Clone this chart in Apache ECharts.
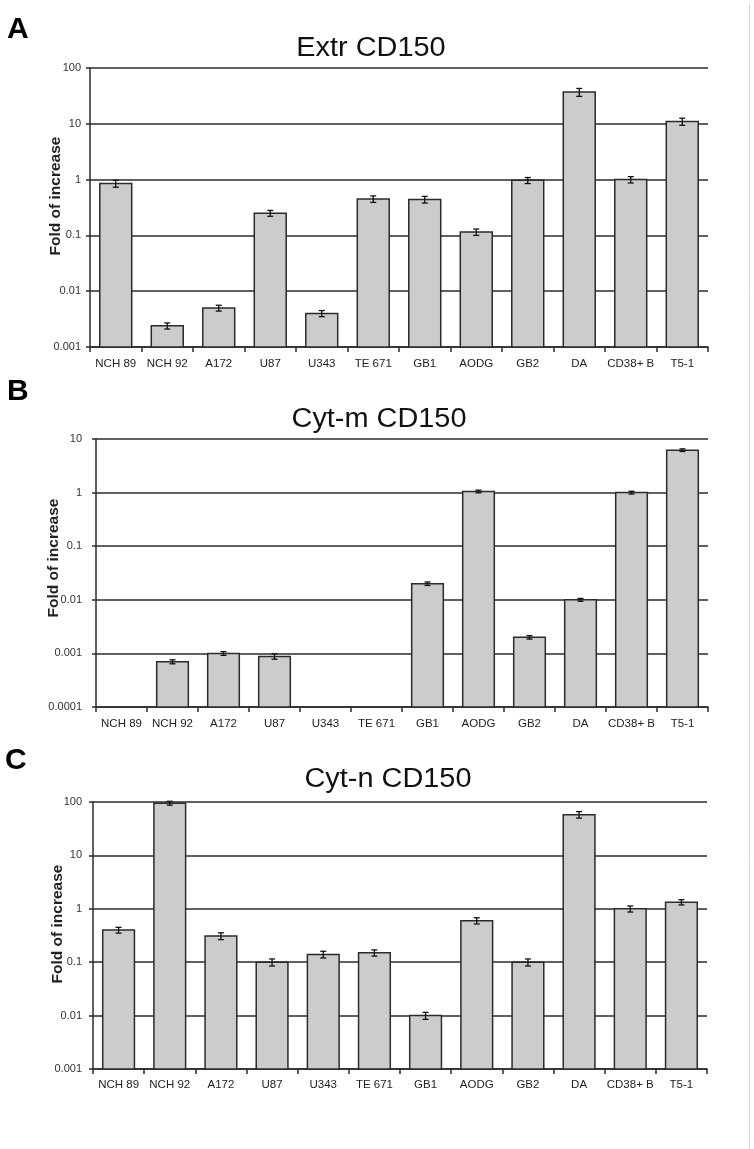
<!DOCTYPE html>
<html><head><meta charset="utf-8">
<script src="https://cdn.jsdelivr.net/npm/echarts@6/dist/echarts.min.js"></script>
<style>html,body{margin:0;padding:0;background:#fff}#c{width:754px;height:1149px}</style>
</head><body><div id="c"></div>
<script>
const categories = ['NCH 89','NCH 92','A172','U87','U343','TE 671','GB1','AODG','GB2','DA','CD38+ B','T5-1'];
const extrValues = [0.85, 0.0024, 0.005, 0.25, 0.004, 0.45, 0.44, 0.115, 0.97, 37, 1.0, 11];
const extrErrors = [0.12, 0.0003, 0.0006, 0.03, 0.0005, 0.06, 0.06, 0.015, 0.12, 6, 0.13, 1.6];
const cytmValues = [null, 0.0007, 0.001, 0.00088, null, null, 0.02, 1.05, 0.002, 0.01, 1.0, 6.2];
const cytmErrors = [null, 0.00006, 0.00008, 0.0001, null, null, 0.0015, 0.06, 0.00015, 0.0006, 0.06, 0.35];
const cytnValues = [0.4, 95, 0.31, 0.1, 0.14, 0.15, 0.01, 0.6, 0.1, 58, 1.0, 1.33];
const cytnErrors = [0.05, 8, 0.045, 0.015, 0.02, 0.02, 0.0015, 0.08, 0.015, 8, 0.13, 0.15];
const panelTitles = ['Extr CD150', 'Cyt-m CD150', 'Cyt-n CD150'];
const panelLetters = ['A', 'B', 'C'];
const yAxisName = 'Fold of increase';
const yMins = [0.001, 0.0001, 0.001];
const yMaxs = [100, 10, 100];

const FONT = '"Liberation Sans", Arial, sans-serif';
const DARK = '#2b2b2b';
const panels = [
  {vals: extrValues, errs: extrErrors, grid: {left: 90, top: 68, width: 618, height: 279}, ylm: 9, xlm: 11,
   title: [371, 62], letter: [7, 43], yname: [56, 196]},
  {vals: cytmValues, errs: cytmErrors, grid: {left: 96, top: 439, width: 612, height: 268}, ylm: 14, xlm: 11,
   title: [379, 433], letter: [7, 405], yname: [54, 558]},
  {vals: cytnValues, errs: cytnErrors, grid: {left: 93, top: 802, width: 614, height: 267}, ylm: 11, xlm: 10,
   title: [388, 793], letter: [5, 774], yname: [58, 924]}
];

function makeRender(yMin) {
  return function (params, api) {
    const i = api.value(0), v = api.value(1), e = api.value(2);
    const top = api.coord([i, v]);
    const base = api.coord([i, yMin]);
    const w = api.size([1, 0])[0] * 0.62;
    const hi = api.coord([i, v + e]);
    const lo = api.coord([i, Math.max(v - e, yMin)]);
    const cap = 3;
    const es = {stroke: '#111', lineWidth: 1.3};
    return {type: 'group', children: [
      {type: 'rect', shape: {x: top[0] - w / 2, y: top[1], width: w, height: base[1] - top[1]},
       style: {fill: '#cccccc', stroke: DARK, lineWidth: 1.5}},
      {type: 'line', shape: {x1: hi[0], y1: hi[1], x2: lo[0], y2: lo[1]}, style: es},
      {type: 'line', shape: {x1: hi[0] - cap, y1: hi[1], x2: hi[0] + cap, y2: hi[1]}, style: es},
      {type: 'line', shape: {x1: lo[0] - cap, y1: lo[1], x2: lo[0] + cap, y2: lo[1]}, style: es}
    ]};
  };
}

const fmt = v => String(parseFloat(Number(v).toPrecision(6)));

const grids = [], xAxes = [], yAxes = [], series = [], graphics = [];
panels.forEach((p, k) => {
  grids.push(Object.assign({containLabel: false}, p.grid));
  xAxes.push({
    type: 'category', gridIndex: k, data: categories,
    axisLine: {lineStyle: {color: DARK, width: 1.5}},
    axisTick: {show: true, alignWithLabel: false, length: 5, lineStyle: {color: DARK, width: 1.5}},
    axisLabel: {interval: 0, fontSize: 11.5, color: '#222', fontFamily: FONT, margin: p.xlm},
    splitLine: {show: false}
  });
  yAxes.push({
    type: 'log', logBase: 10, gridIndex: k, min: yMins[k], max: yMaxs[k], splitNumber: 5,
    axisLine: {show: true, lineStyle: {color: DARK, width: 1.5}},
    axisTick: {show: true, length: 4, lineStyle: {color: DARK, width: 1.5}},
    axisLabel: {formatter: fmt, fontSize: 11, color: '#333', fontFamily: FONT, margin: p.ylm},
    splitLine: {show: true, lineStyle: {color: DARK, width: 1.5}},
    minorTick: {show: false}, minorSplitLine: {show: false}
  });
  const data = [];
  p.vals.forEach((v, i) => { if (v !== null) data.push([i, v, p.errs[i]]); });
  series.push({
    type: 'custom', xAxisIndex: k, yAxisIndex: k, data: data,
    encode: {x: 0, y: 1}, renderItem: makeRender(yMins[k]), clip: false, z: 5
  });
  graphics.push({
    type: 'text', x: p.title[0], y: p.title[1], scaleX: 1.07,
    style: {text: panelTitles[k], fontSize: 27, fontFamily: FONT, fill: '#111',
            textAlign: 'center', textVerticalAlign: 'bottom'}
  });
  graphics.push({
    type: 'text', x: p.letter[0], y: p.letter[1] + 2,
    style: {text: panelLetters[k], fontSize: 30, fontWeight: 'bold', fontFamily: FONT, fill: '#000',
            textAlign: 'left', textVerticalAlign: 'bottom'}
  });
  graphics.push({
    type: 'text', x: p.yname[0], y: p.yname[1], rotation: Math.PI / 2,
    style: {text: yAxisName, fontSize: 15.5, fontWeight: 'bold', fontFamily: FONT, fill: '#222',
            textAlign: 'center', textVerticalAlign: 'middle'}
  });
});
graphics.push({type: 'line', shape: {x1: 749.5, y1: 3, x2: 749.5, y2: 1149},
               style: {stroke: '#d9d9d9', lineWidth: 1}});

const chart = echarts.init(document.getElementById('c'), null, {renderer: 'canvas'});
chart.setOption({
  backgroundColor: '#ffffff',
  animation: false,
  grid: grids, xAxis: xAxes, yAxis: yAxes, series: series, graphic: graphics
});
</script></body></html>
